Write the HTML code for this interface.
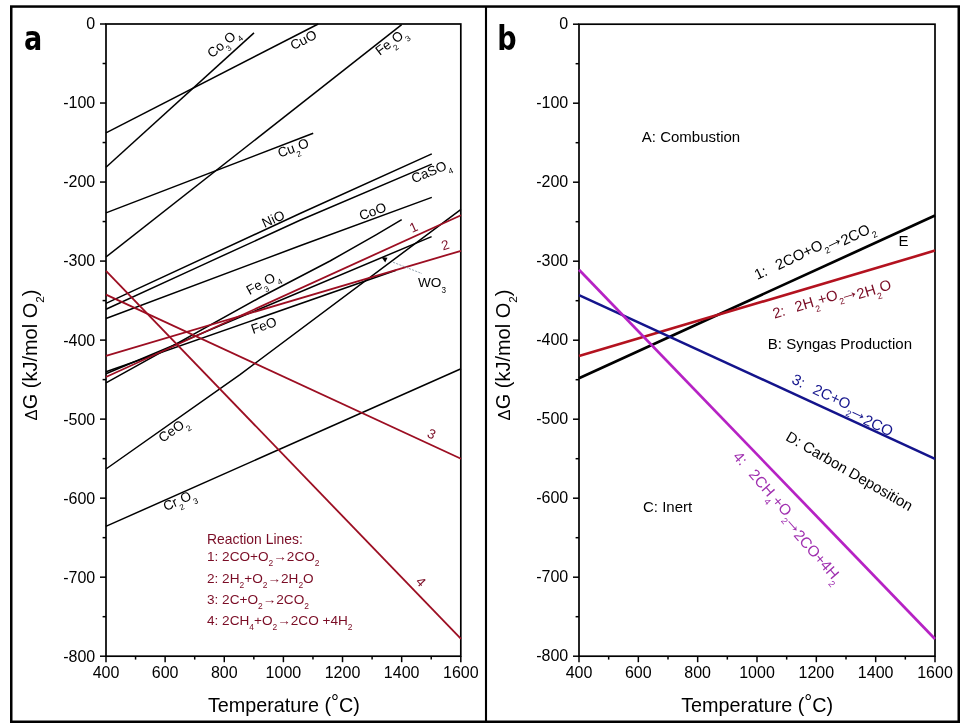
<!DOCTYPE html>
<html><head><meta charset="utf-8"><title>Ellingham diagram</title>
<style>
html,body{margin:0;padding:0;background:#fff;}
body{width:960px;height:723px;overflow:hidden;}
svg{display:block;font-family:"Liberation Sans", Arial, sans-serif;}
text{white-space:pre;}
</style></head><body>
<svg width="960" height="723" viewBox="0 0 960 723">
<rect width="960" height="723" fill="#fff"/>
<rect x="11.25" y="6.55" width="947.5" height="715.2" fill="none" stroke="#000" stroke-width="2.5"/>
<line x1="486" y1="6" x2="486" y2="722" stroke="#000" stroke-width="2.1"/>
<text x="0" y="0" font-family="DejaVu Sans, sans-serif" font-size="33" font-weight="bold" fill="#000" transform="translate(24.1 50.0) scale(0.82 1)">a</text>
<text x="0" y="0" font-family="DejaVu Sans, sans-serif" font-size="33" font-weight="bold" fill="#000" transform="translate(497.2 50.0) scale(0.82 1)">b</text>
<rect x="106" y="24" width="354.8" height="632.2" fill="none" stroke="#000" stroke-width="1.7"/>
<line x1="100.00" y1="24.00" x2="106" y2="24.00" stroke="#000" stroke-width="1.5"/>
<text x="95.20" y="29.40" font-size="16" text-anchor="end" fill="#000">0</text>
<line x1="102.60" y1="63.51" x2="106" y2="63.51" stroke="#000" stroke-width="1.5"/>
<line x1="100.00" y1="103.03" x2="106" y2="103.03" stroke="#000" stroke-width="1.5"/>
<text x="95.20" y="108.43" font-size="16" text-anchor="end" fill="#000">-100</text>
<line x1="102.60" y1="142.54" x2="106" y2="142.54" stroke="#000" stroke-width="1.5"/>
<line x1="100.00" y1="182.05" x2="106" y2="182.05" stroke="#000" stroke-width="1.5"/>
<text x="95.20" y="187.45" font-size="16" text-anchor="end" fill="#000">-200</text>
<line x1="102.60" y1="221.56" x2="106" y2="221.56" stroke="#000" stroke-width="1.5"/>
<line x1="100.00" y1="261.08" x2="106" y2="261.08" stroke="#000" stroke-width="1.5"/>
<text x="95.20" y="266.48" font-size="16" text-anchor="end" fill="#000">-300</text>
<line x1="102.60" y1="300.59" x2="106" y2="300.59" stroke="#000" stroke-width="1.5"/>
<line x1="100.00" y1="340.10" x2="106" y2="340.10" stroke="#000" stroke-width="1.5"/>
<text x="95.20" y="345.50" font-size="16" text-anchor="end" fill="#000">-400</text>
<line x1="102.60" y1="379.61" x2="106" y2="379.61" stroke="#000" stroke-width="1.5"/>
<line x1="100.00" y1="419.12" x2="106" y2="419.12" stroke="#000" stroke-width="1.5"/>
<text x="95.20" y="424.52" font-size="16" text-anchor="end" fill="#000">-500</text>
<line x1="102.60" y1="458.64" x2="106" y2="458.64" stroke="#000" stroke-width="1.5"/>
<line x1="100.00" y1="498.15" x2="106" y2="498.15" stroke="#000" stroke-width="1.5"/>
<text x="95.20" y="503.55" font-size="16" text-anchor="end" fill="#000">-600</text>
<line x1="102.60" y1="537.66" x2="106" y2="537.66" stroke="#000" stroke-width="1.5"/>
<line x1="100.00" y1="577.18" x2="106" y2="577.18" stroke="#000" stroke-width="1.5"/>
<text x="95.20" y="582.58" font-size="16" text-anchor="end" fill="#000">-700</text>
<line x1="102.60" y1="616.69" x2="106" y2="616.69" stroke="#000" stroke-width="1.5"/>
<line x1="100.00" y1="656.20" x2="106" y2="656.20" stroke="#000" stroke-width="1.5"/>
<text x="95.20" y="661.60" font-size="16" text-anchor="end" fill="#000">-800</text>
<line x1="106.00" y1="656.2" x2="106.00" y2="662.20" stroke="#000" stroke-width="1.5"/>
<text x="106.00" y="678.20" font-size="16" text-anchor="middle" fill="#000">400</text>
<line x1="135.57" y1="656.2" x2="135.57" y2="659.60" stroke="#000" stroke-width="1.5"/>
<line x1="165.13" y1="656.2" x2="165.13" y2="662.20" stroke="#000" stroke-width="1.5"/>
<text x="165.13" y="678.20" font-size="16" text-anchor="middle" fill="#000">600</text>
<line x1="194.70" y1="656.2" x2="194.70" y2="659.60" stroke="#000" stroke-width="1.5"/>
<line x1="224.27" y1="656.2" x2="224.27" y2="662.20" stroke="#000" stroke-width="1.5"/>
<text x="224.27" y="678.20" font-size="16" text-anchor="middle" fill="#000">800</text>
<line x1="253.83" y1="656.2" x2="253.83" y2="659.60" stroke="#000" stroke-width="1.5"/>
<line x1="283.40" y1="656.2" x2="283.40" y2="662.20" stroke="#000" stroke-width="1.5"/>
<text x="283.40" y="678.20" font-size="16" text-anchor="middle" fill="#000">1000</text>
<line x1="312.97" y1="656.2" x2="312.97" y2="659.60" stroke="#000" stroke-width="1.5"/>
<line x1="342.53" y1="656.2" x2="342.53" y2="662.20" stroke="#000" stroke-width="1.5"/>
<text x="342.53" y="678.20" font-size="16" text-anchor="middle" fill="#000">1200</text>
<line x1="372.10" y1="656.2" x2="372.10" y2="659.60" stroke="#000" stroke-width="1.5"/>
<line x1="401.67" y1="656.2" x2="401.67" y2="662.20" stroke="#000" stroke-width="1.5"/>
<text x="401.67" y="678.20" font-size="16" text-anchor="middle" fill="#000">1400</text>
<line x1="431.23" y1="656.2" x2="431.23" y2="659.60" stroke="#000" stroke-width="1.5"/>
<line x1="460.80" y1="656.2" x2="460.80" y2="662.20" stroke="#000" stroke-width="1.5"/>
<text x="460.80" y="678.20" font-size="16" text-anchor="middle" fill="#000">1600</text>
<polyline points="106.00,167.20 254.00,32.90" fill="none" stroke="#000" stroke-width="1.5" stroke-linecap="butt" stroke-linejoin="round"/>
<polyline points="106.00,132.80 318.20,24.00" fill="none" stroke="#000" stroke-width="1.5" stroke-linecap="butt" stroke-linejoin="round"/>
<polyline points="106.00,257.00 401.70,24.60" fill="none" stroke="#000" stroke-width="1.5" stroke-linecap="butt" stroke-linejoin="round"/>
<polyline points="106.00,212.90 313.20,133.20" fill="none" stroke="#000" stroke-width="1.5" stroke-linecap="butt" stroke-linejoin="round"/>
<polyline points="106.00,303.40 300.00,213.50 431.80,153.90" fill="none" stroke="#000" stroke-width="1.5" stroke-linecap="butt" stroke-linejoin="round"/>
<polyline points="106.00,309.20 200.00,266.10 300.00,220.30 431.80,164.10" fill="none" stroke="#000" stroke-width="1.5" stroke-linecap="butt" stroke-linejoin="round"/>
<polyline points="106.00,318.50 300.00,245.80 431.80,197.40" fill="none" stroke="#000" stroke-width="1.5" stroke-linecap="butt" stroke-linejoin="round"/>
<polyline points="106.00,382.80 260.00,297.50 330.00,261.00 376.00,234.80 401.70,219.60" fill="none" stroke="#000" stroke-width="1.5" stroke-linecap="butt" stroke-linejoin="round"/>
<polyline points="106.00,373.70 431.60,236.60" fill="none" stroke="#000" stroke-width="1.5" stroke-linecap="butt" stroke-linejoin="round"/>
<polyline points="106.00,371.70 396.00,270.20" fill="none" stroke="#000" stroke-width="1.5" stroke-linecap="butt" stroke-linejoin="round"/>
<polyline points="106.00,469.00 240.00,374.60 461.00,209.30" fill="none" stroke="#000" stroke-width="1.5" stroke-linecap="butt" stroke-linejoin="round"/>
<polyline points="105.80,526.40 461.00,368.70" fill="none" stroke="#000" stroke-width="1.5" stroke-linecap="butt" stroke-linejoin="round"/>
<polyline points="106.00,377.00 461.00,215.20" fill="none" stroke="#9c0e22" stroke-width="1.8" stroke-linecap="butt" stroke-linejoin="round"/>
<polyline points="106.00,355.80 461.00,250.80" fill="none" stroke="#9c0e22" stroke-width="1.8" stroke-linecap="butt" stroke-linejoin="round"/>
<polyline points="106.00,294.60 461.00,458.70" fill="none" stroke="#9c0e22" stroke-width="1.8" stroke-linecap="butt" stroke-linejoin="round"/>
<polyline points="106.00,270.90 461.00,638.90" fill="none" stroke="#9c0e22" stroke-width="1.8" stroke-linecap="butt" stroke-linejoin="round"/>
<text transform="translate(223.00 43.00) rotate(-40.00)" x="0" y="4.72" font-size="13.5" fill="#000" text-anchor="middle"><tspan>Co</tspan><tspan dy="5.67" font-size="8.10">3</tspan><tspan dy="-5.67">O</tspan><tspan dy="5.67" font-size="8.10">4</tspan></text>
<text transform="translate(303.40 39.80) rotate(-27.00)" x="0" y="4.72" font-size="13.5" fill="#000" text-anchor="middle"><tspan>CuO</tspan></text>
<text transform="translate(391.00 41.60) rotate(-37.00)" x="0" y="4.72" font-size="13.5" fill="#000" text-anchor="middle"><tspan>Fe</tspan><tspan dy="5.67" font-size="8.10">2</tspan><tspan dy="-5.67">O</tspan><tspan dy="5.67" font-size="8.10">3</tspan></text>
<text transform="translate(293.20 147.80) rotate(-20.00)" x="0" y="4.72" font-size="13.5" fill="#000" text-anchor="middle"><tspan>Cu</tspan><tspan dy="5.67" font-size="8.10">2</tspan><tspan dy="-5.67">O</tspan></text>
<text transform="translate(273.20 218.80) rotate(-24.50)" x="0" y="4.72" font-size="13.5" fill="#000" text-anchor="middle"><tspan>NiO</tspan></text>
<text transform="translate(430.90 171.00) rotate(-23.00)" x="0" y="4.72" font-size="13.5" fill="#000" text-anchor="middle"><tspan>CaSO</tspan><tspan dy="5.67" font-size="8.10">4</tspan></text>
<text transform="translate(372.60 211.30) rotate(-20.30)" x="0" y="4.72" font-size="13.5" fill="#000" text-anchor="middle"><tspan>CoO</tspan></text>
<text transform="translate(262.70 282.60) rotate(-29.00)" x="0" y="4.72" font-size="13.5" fill="#000" text-anchor="middle"><tspan>Fe</tspan><tspan dy="5.67" font-size="8.10">3</tspan><tspan dy="-5.67">O</tspan><tspan dy="5.67" font-size="8.10">4</tspan></text>
<text transform="translate(263.80 325.30) rotate(-19.30)" x="0" y="4.72" font-size="13.5" fill="#000" text-anchor="middle"><tspan>FeO</tspan></text>
<text transform="translate(173.00 429.80) rotate(-35.00)" x="0" y="4.72" font-size="13.5" fill="#000" text-anchor="middle"><tspan>CeO</tspan><tspan dy="5.67" font-size="8.10">2</tspan></text>
<text transform="translate(179.20 500.00) rotate(-24.00)" x="0" y="4.72" font-size="13.5" fill="#000" text-anchor="middle"><tspan>Cr</tspan><tspan dy="5.67" font-size="8.10">2</tspan><tspan dy="-5.67">O</tspan><tspan dy="5.67" font-size="8.10">3</tspan></text>
<text x="418.00" y="286.60" font-size="13.6" fill="#000" text-anchor="start" font-weight="normal"><tspan>WO</tspan><tspan dy="6.12" font-size="8.16">3</tspan></text>
<line x1="393" y1="262.2" x2="422" y2="273.6" stroke="#8a9aa8" stroke-width="0.9" stroke-dasharray="2.2 1.2"/>
<polygon points="381.4,257.0 387.5,257.8 385.2,262.4" fill="#000"/>
<text transform="translate(413.60 227.10) rotate(-24.00)" x="0" y="4.72" font-size="13.5" fill="#7a0c25" text-anchor="middle"><tspan>1</tspan></text>
<text transform="translate(445.20 244.90) rotate(-17.00)" x="0" y="4.72" font-size="13.5" fill="#7a0c25" text-anchor="middle"><tspan>2</tspan></text>
<text transform="translate(431.70 433.80) rotate(25.00)" x="0" y="4.72" font-size="13.5" fill="#7a0c25" text-anchor="middle"><tspan>3</tspan></text>
<text transform="translate(420.90 581.70) rotate(46.00)" x="0" y="4.72" font-size="13.5" fill="#7a0c25" text-anchor="middle"><tspan>4</tspan></text>
<text x="207.00" y="543.60" font-size="13.9" fill="#7a0c25" text-anchor="start" font-weight="normal"><tspan>Reaction Lines:</tspan></text>
<text x="207.00" y="561.30" font-size="13.6" fill="#7a0c25" text-anchor="start" font-weight="normal"><tspan>1: 2CO+O</tspan><tspan dy="4.90" font-size="8.43">2</tspan><tspan dy="-4.90">→2CO</tspan><tspan dy="4.90" font-size="8.43">2</tspan></text>
<text x="207.00" y="582.60" font-size="13.6" fill="#7a0c25" text-anchor="start" font-weight="normal"><tspan>2: 2H</tspan><tspan dy="4.90" font-size="8.43">2</tspan><tspan dy="-4.90">+O</tspan><tspan dy="4.90" font-size="8.43">2</tspan><tspan dy="-4.90">→2H</tspan><tspan dy="4.90" font-size="8.43">2</tspan><tspan dy="-4.90">O</tspan></text>
<text x="207.00" y="603.80" font-size="13.6" fill="#7a0c25" text-anchor="start" font-weight="normal"><tspan>3: 2C+O</tspan><tspan dy="4.90" font-size="8.43">2</tspan><tspan dy="-4.90">→2CO</tspan><tspan dy="4.90" font-size="8.43">2</tspan></text>
<text x="207.00" y="625.00" font-size="13.6" fill="#7a0c25" text-anchor="start" font-weight="normal"><tspan>4: 2CH</tspan><tspan dy="4.90" font-size="8.43">4</tspan><tspan dy="-4.90">+O</tspan><tspan dy="4.90" font-size="8.43">2</tspan><tspan dy="-4.90">→2CO +4H</tspan><tspan dy="4.90" font-size="8.43">2</tspan></text>
<text transform="translate(36.5 420.4) rotate(-90)" x="0" y="0" font-size="20" fill="#000"><tspan font-size="16.5">Δ</tspan>G (kJ/mol O<tspan font-size="11.8" dy="7.5">2</tspan><tspan dy="-7.5">)</tspan></text>
<text x="207.9" y="711.8" font-size="19.8" fill="#000">Temperature (<tspan dy="-3">°</tspan><tspan dy="3">C)</tspan></text>
<rect x="579" y="24.2" width="356" height="632.0" fill="none" stroke="#000" stroke-width="1.7"/>
<line x1="573.00" y1="24.20" x2="579" y2="24.20" stroke="#000" stroke-width="1.5"/>
<text x="568.20" y="28.60" font-size="16" text-anchor="end" fill="#000">0</text>
<line x1="575.60" y1="63.70" x2="579" y2="63.70" stroke="#000" stroke-width="1.5"/>
<line x1="573.00" y1="103.20" x2="579" y2="103.20" stroke="#000" stroke-width="1.5"/>
<text x="568.20" y="107.60" font-size="16" text-anchor="end" fill="#000">-100</text>
<line x1="575.60" y1="142.70" x2="579" y2="142.70" stroke="#000" stroke-width="1.5"/>
<line x1="573.00" y1="182.20" x2="579" y2="182.20" stroke="#000" stroke-width="1.5"/>
<text x="568.20" y="186.60" font-size="16" text-anchor="end" fill="#000">-200</text>
<line x1="575.60" y1="221.70" x2="579" y2="221.70" stroke="#000" stroke-width="1.5"/>
<line x1="573.00" y1="261.20" x2="579" y2="261.20" stroke="#000" stroke-width="1.5"/>
<text x="568.20" y="265.60" font-size="16" text-anchor="end" fill="#000">-300</text>
<line x1="575.60" y1="300.70" x2="579" y2="300.70" stroke="#000" stroke-width="1.5"/>
<line x1="573.00" y1="340.20" x2="579" y2="340.20" stroke="#000" stroke-width="1.5"/>
<text x="568.20" y="344.60" font-size="16" text-anchor="end" fill="#000">-400</text>
<line x1="575.60" y1="379.70" x2="579" y2="379.70" stroke="#000" stroke-width="1.5"/>
<line x1="573.00" y1="419.20" x2="579" y2="419.20" stroke="#000" stroke-width="1.5"/>
<text x="568.20" y="423.60" font-size="16" text-anchor="end" fill="#000">-500</text>
<line x1="575.60" y1="458.70" x2="579" y2="458.70" stroke="#000" stroke-width="1.5"/>
<line x1="573.00" y1="498.20" x2="579" y2="498.20" stroke="#000" stroke-width="1.5"/>
<text x="568.20" y="502.60" font-size="16" text-anchor="end" fill="#000">-600</text>
<line x1="575.60" y1="537.70" x2="579" y2="537.70" stroke="#000" stroke-width="1.5"/>
<line x1="573.00" y1="577.20" x2="579" y2="577.20" stroke="#000" stroke-width="1.5"/>
<text x="568.20" y="581.60" font-size="16" text-anchor="end" fill="#000">-700</text>
<line x1="575.60" y1="616.70" x2="579" y2="616.70" stroke="#000" stroke-width="1.5"/>
<line x1="573.00" y1="656.20" x2="579" y2="656.20" stroke="#000" stroke-width="1.5"/>
<text x="568.20" y="660.60" font-size="16" text-anchor="end" fill="#000">-800</text>
<line x1="579.00" y1="656.2" x2="579.00" y2="662.20" stroke="#000" stroke-width="1.5"/>
<text x="579.00" y="678.20" font-size="16" text-anchor="middle" fill="#000">400</text>
<line x1="608.67" y1="656.2" x2="608.67" y2="659.60" stroke="#000" stroke-width="1.5"/>
<line x1="638.33" y1="656.2" x2="638.33" y2="662.20" stroke="#000" stroke-width="1.5"/>
<text x="638.33" y="678.20" font-size="16" text-anchor="middle" fill="#000">600</text>
<line x1="668.00" y1="656.2" x2="668.00" y2="659.60" stroke="#000" stroke-width="1.5"/>
<line x1="697.67" y1="656.2" x2="697.67" y2="662.20" stroke="#000" stroke-width="1.5"/>
<text x="697.67" y="678.20" font-size="16" text-anchor="middle" fill="#000">800</text>
<line x1="727.33" y1="656.2" x2="727.33" y2="659.60" stroke="#000" stroke-width="1.5"/>
<line x1="757.00" y1="656.2" x2="757.00" y2="662.20" stroke="#000" stroke-width="1.5"/>
<text x="757.00" y="678.20" font-size="16" text-anchor="middle" fill="#000">1000</text>
<line x1="786.67" y1="656.2" x2="786.67" y2="659.60" stroke="#000" stroke-width="1.5"/>
<line x1="816.33" y1="656.2" x2="816.33" y2="662.20" stroke="#000" stroke-width="1.5"/>
<text x="816.33" y="678.20" font-size="16" text-anchor="middle" fill="#000">1200</text>
<line x1="846.00" y1="656.2" x2="846.00" y2="659.60" stroke="#000" stroke-width="1.5"/>
<line x1="875.67" y1="656.2" x2="875.67" y2="662.20" stroke="#000" stroke-width="1.5"/>
<text x="875.67" y="678.20" font-size="16" text-anchor="middle" fill="#000">1400</text>
<line x1="905.33" y1="656.2" x2="905.33" y2="659.60" stroke="#000" stroke-width="1.5"/>
<line x1="935.00" y1="656.2" x2="935.00" y2="662.20" stroke="#000" stroke-width="1.5"/>
<text x="935.00" y="678.20" font-size="16" text-anchor="middle" fill="#000">1600</text>
<polyline points="579.00,378.20 935.00,215.60" fill="none" stroke="#000" stroke-width="2.7" stroke-linecap="butt" stroke-linejoin="round"/>
<polyline points="579.00,355.90 935.00,250.60" fill="none" stroke="#b3121f" stroke-width="2.6" stroke-linecap="butt" stroke-linejoin="round"/>
<polyline points="579.00,295.10 935.00,458.80" fill="none" stroke="#14148c" stroke-width="2.5" stroke-linecap="butt" stroke-linejoin="round"/>
<polyline points="579.00,269.80 935.00,639.00" fill="none" stroke="#b622c4" stroke-width="2.7" stroke-linecap="butt" stroke-linejoin="round"/>
<text x="641.80" y="142.20" font-size="15" fill="#000" text-anchor="start" font-weight="normal"><tspan>A: Combustion</tspan></text>
<text x="767.80" y="349.20" font-size="15" fill="#000" text-anchor="start" font-weight="normal"><tspan>B: Syngas Production</tspan></text>
<text x="643.00" y="511.80" font-size="15" fill="#000" text-anchor="start" font-weight="normal"><tspan>C: Inert</tspan></text>
<text transform="translate(849.50 471.00) rotate(30.00)" x="0" y="5.25" font-size="15" fill="#000" text-anchor="middle"><tspan>D: Carbon Deposition</tspan></text>
<text transform="translate(903.50 240.60)" x="0" y="5.25" font-size="15" fill="#000" text-anchor="middle"><tspan>E</tspan></text>
<text transform="translate(813.00 248.00) rotate(-25.30)" x="0" y="5.18" font-size="14.8" fill="#000" text-anchor="middle"><tspan>1:  </tspan><tspan dx="2.60">2CO+O</tspan><tspan dy="6.00" font-size="8.88">2</tspan><tspan dy="-6.00"></tspan><tspan font-size="20.00" dx="-3.50" dy="-2.80">→</tspan><tspan dx="-2.50" dy="2.80">2CO</tspan><tspan dy="6.00" font-size="8.88">2</tspan></text>
<text transform="translate(831.00 296.00) rotate(-17.00)" x="0" y="5.18" font-size="14.8" fill="#7a0c25" text-anchor="middle"><tspan>2:  </tspan><tspan dx="2.60">2H</tspan><tspan dy="6.00" font-size="8.88">2</tspan><tspan dy="-6.00">+O</tspan><tspan dy="6.00" font-size="8.88">2</tspan><tspan dy="-6.00"></tspan><tspan font-size="20.00" dx="-3.50" dy="-2.80">→</tspan><tspan dx="-2.50" dy="2.80">2H</tspan><tspan dy="6.00" font-size="8.88">2</tspan><tspan dy="-6.00">O</tspan></text>
<text transform="translate(843.90 402.30) rotate(25.40)" x="0" y="5.25" font-size="15.0" fill="#14148c" text-anchor="middle"><tspan>3:  </tspan><tspan dx="2.60">2C+O</tspan><tspan dy="6.00" font-size="9.00">2</tspan><tspan dy="-6.00"></tspan><tspan font-size="20.00" dx="-3.50" dy="-2.80">→</tspan><tspan dx="-2.50" dy="2.80">2CO</tspan></text>
<text transform="translate(790.20 515.00) rotate(48.80)" x="0" y="5.32" font-size="15.2" fill="#a030b0" text-anchor="middle"><tspan>4:  </tspan><tspan dx="2.60">2CH</tspan><tspan dy="6.00" font-size="9.12">4</tspan><tspan dy="-6.00">+O</tspan><tspan dy="6.00" font-size="9.12">2</tspan><tspan dy="-6.00"></tspan><tspan font-size="20.00" dx="-3.50" dy="-2.80">→</tspan><tspan dx="-2.50" dy="2.80">2CO+4H</tspan><tspan dy="6.00" font-size="9.12">2</tspan></text>
<text transform="translate(509.5 420.4) rotate(-90)" x="0" y="0" font-size="20" fill="#000"><tspan font-size="16.5">Δ</tspan>G (kJ/mol O<tspan font-size="11.8" dy="7.5">2</tspan><tspan dy="-7.5">)</tspan></text>
<text x="681.2" y="711.8" font-size="19.8" fill="#000">Temperature (<tspan dy="-3">°</tspan><tspan dy="3">C)</tspan></text>
</svg>
</body></html>
